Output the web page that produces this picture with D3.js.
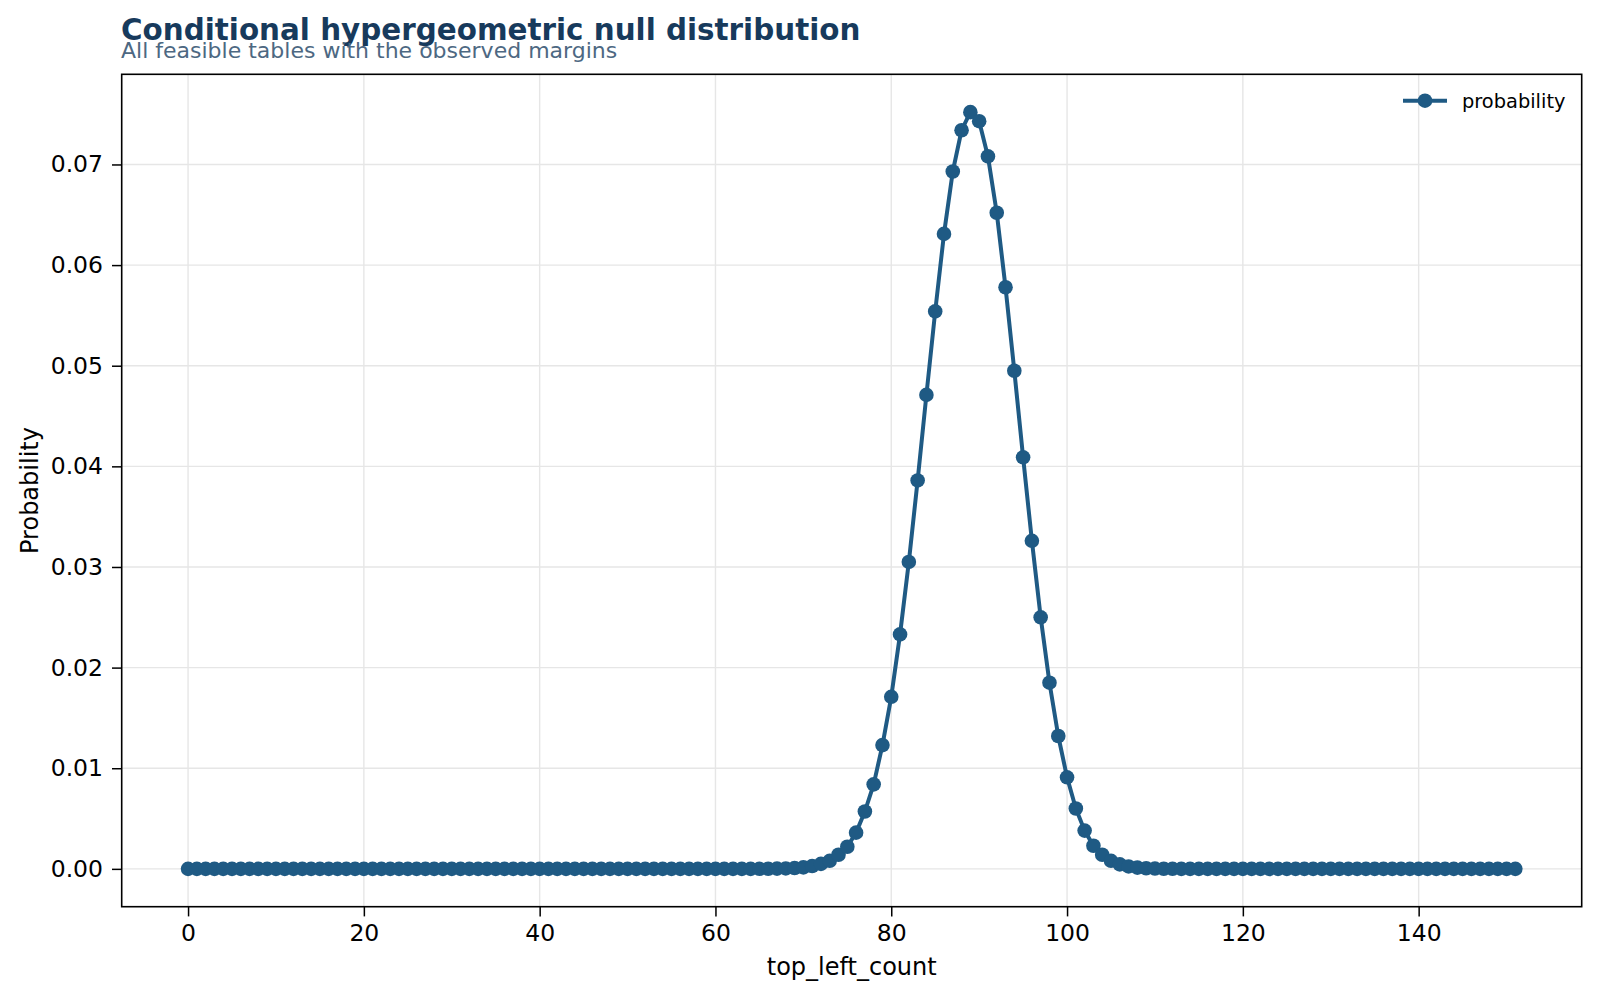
<!DOCTYPE html>
<html>
<head>
<meta charset="utf-8">
<script src="https://cdn.jsdelivr.net/npm/d3@7"></script>
<style>
  html, body { margin: 0; padding: 0; background: #fff; }
  svg { display: block; font-family: "DejaVu Sans", sans-serif; }
</style>
</head>
<body>
<div id="chart"></div>
<script>
// counts 0..151 of the top-left cell
const counts = d3.range(0, 152);
// probability for each count
const probability = [
  0,0,0,0,0,0,0,0,0,0,            // 0-9
  0,0,0,0,0,0,0,0,0,0,            // 10-19
  0,0,0,0,0,0,0,0,0,0,            // 20-29
  0,0,0,0,0,0,0,0,0,0,            // 30-39
  0,0,0,0,0,0,0,0,0,0,            // 40-49
  0,0,0,0,0,0,0,0,0,0,            // 50-59
  0,0,0,0.000001,0.000002,0.000004,0.00001,0.00002,0.00004,0.00008, // 60-69
  0.00015,0.00028,0.0005,0.0008,0.0014,0.0022,0.0036,0.0057,0.0084,0.0123, // 70-79
  0.0171,0.0233,0.0305,0.0386,0.0471,0.0554,0.0631,0.0693,0.0734,0.0752, // 80-89
  0.0743,0.0708,0.0652,0.0578,0.0495,0.0409,0.0326,0.0250,0.0185,0.0132, // 90-99
  0.0091,0.0060,0.0038,0.0023,0.0014,0.0008,0.00045,0.00024,0.00012,0.00006, // 100-109
  0.00003,0.000013,0.000006,0.000002,0.000001,0,0,0,0,0, // 110-119
  0,0,0,0,0,0,0,0,0,0,            // 120-129
  0,0,0,0,0,0,0,0,0,0,            // 130-139
  0,0,0,0,0,0,0,0,0,0,            // 140-149
  0,0                              // 150-151
];
const xTicks = [0, 20, 40, 60, 80, 100, 120, 140];
const yTicks = [0, 0.01, 0.02, 0.03, 0.04, 0.05, 0.06, 0.07];

const W = 1600, H = 999;
const m = { left: 121.7, right: W - 1581.7, top: 74.3, bottom: H - 906.7 };
const iw = W - m.left - m.right, ih = H - m.top - m.bottom;
const LINE = "#1f5a84";

const data = counts.map((c, i) => ({ x: c, y: probability[i] }));

// matplotlib-like 5% padding
const xMin = d3.min(counts), xMax = d3.max(counts);
const yMin = d3.min(probability), yMax = d3.max(probability);
const xPad = (xMax - xMin) * 0.05, yPad = (yMax - yMin) * 0.05;

const x = d3.scaleLinear().domain([xMin - xPad, xMax + xPad]).range([0, iw]);
const y = d3.scaleLinear().domain([yMin - yPad, yMax + yPad]).range([ih, 0]);

const svg = d3.select("#chart").append("svg").attr("width", W).attr("height", H);

// titles
svg.append("text")
  .attr("x", 121).attr("y", 40)
  .attr("font-size", 29.4).attr("font-weight", "bold").attr("fill", "#173a5c")
  .text("Conditional hypergeometric null distribution");
svg.append("text")
  .attr("x", 121).attr("y", 57.5)
  .attr("font-size", 22).attr("fill", "#4d6882")
  .text("All feasible tables with the observed margins");

const g = svg.append("g").attr("transform", `translate(${m.left},${m.top})`);

// grid
g.append("g").selectAll("line.gx").data(xTicks).join("line")
  .attr("x1", d => x(d)).attr("x2", d => x(d)).attr("y1", 0).attr("y2", ih)
  .attr("stroke", "#e6e6e6").attr("stroke-width", 1.4);
g.append("g").selectAll("line.gy").data(yTicks).join("line")
  .attr("y1", d => y(d)).attr("y2", d => y(d)).attr("x1", 0).attr("x2", iw)
  .attr("stroke", "#e6e6e6").attr("stroke-width", 1.4);

// axes
const xAxis = g.append("g").attr("transform", `translate(0,${ih})`)
  .call(d3.axisBottom(x).tickValues(xTicks).tickFormat(d3.format("d")).tickSize(9.7).tickPadding(8));
const yAxis = g.append("g")
  .call(d3.axisLeft(y).tickValues(yTicks).tickFormat(d3.format(".2f")).tickSize(9.7).tickPadding(9));
[xAxis, yAxis].forEach(a => {
  a.select(".domain").remove();
  a.selectAll(".tick line").attr("stroke", "#000").attr("stroke-width", 1.5);
  a.selectAll(".tick text").attr("font-size", 23.5).attr("fill", "#000")
    .attr("font-family", "DejaVu Sans");
});

// line + markers
g.append("path").datum(data)
  .attr("fill", "none").attr("stroke", LINE).attr("stroke-width", 4)
  .attr("stroke-linejoin", "round")
  .attr("d", d3.line().x(d => x(d.x)).y(d => y(d.y)));
g.append("g").selectAll("circle").data(data).join("circle")
  .attr("cx", d => x(d.x)).attr("cy", d => y(d.y)).attr("r", 7.3)
  .attr("fill", LINE);

// frame
g.append("rect").attr("width", iw).attr("height", ih)
  .attr("fill", "none").attr("stroke", "#000").attr("stroke-width", 1.6);

// axis labels
svg.append("text")
  .attr("x", m.left + iw / 2).attr("y", 975)
  .attr("text-anchor", "middle").attr("font-size", 24).attr("fill", "#000")
  .text("top_left_count");
svg.append("text")
  .attr("transform", `translate(38,${m.top + ih / 2}) rotate(-90)`)
  .attr("text-anchor", "middle").attr("font-size", 24).attr("fill", "#000")
  .text("Probability");

// legend
const lg = svg.append("g").attr("transform", "translate(1403,100.7)");
lg.append("line").attr("x1", 0).attr("x2", 44)
  .attr("stroke", LINE).attr("stroke-width", 4);
lg.append("circle").attr("cx", 22).attr("r", 7.3).attr("fill", LINE);
lg.append("text").attr("x", 59).attr("y", 7)
  .attr("font-size", 19.4).attr("fill", "#000").text("probability");
</script>
</body>
</html>
